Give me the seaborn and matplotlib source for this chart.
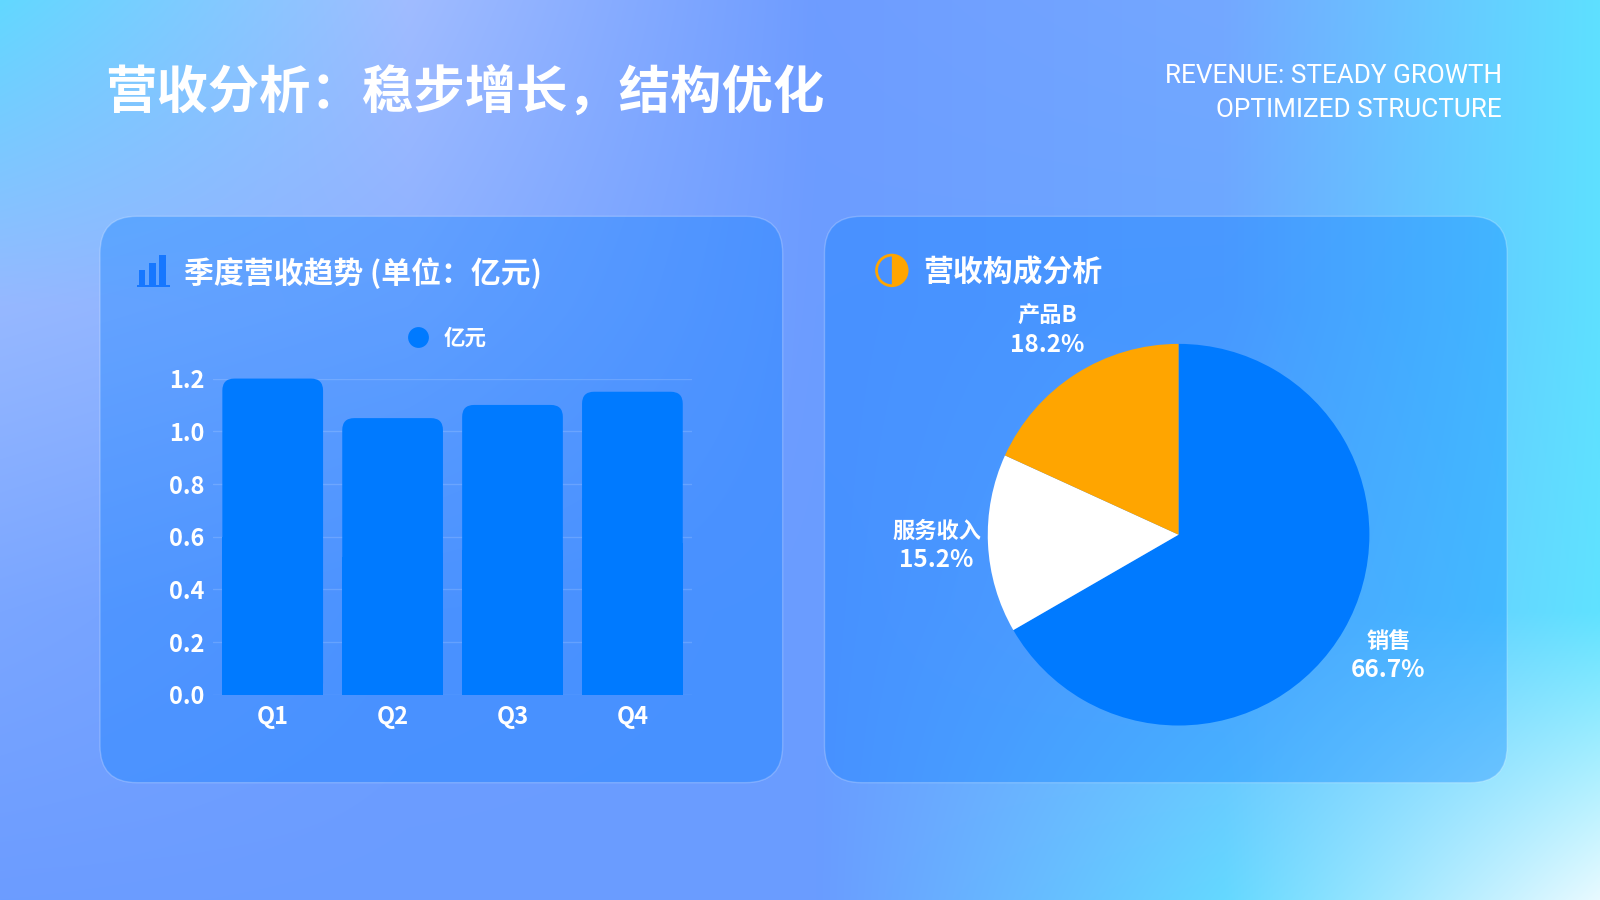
import numpy as np
import pandas as pd
import matplotlib
matplotlib.use("Agg")
import matplotlib.pyplot as plt
import seaborn as sns
from matplotlib.patches import FancyBboxPatch, Rectangle, Circle, Wedge
from matplotlib.lines import Line2D

# data
quarters = ["Q1", "Q2", "Q3", "Q4"]
revenue = [1.20, 1.05, 1.10, 1.15]
unit_label = "亿元"

mix_names = ["销售", "服务收入", "产品B"]
mix_values = [2.2, 0.5, 0.6]
mix_colors = ["#007AFF", "#FFFFFF", "#FFA500"]

title = "营收分析：稳步增长，结构优化"
subtitle = "REVENUE: STEADY GROWTH\nOPTIMIZED STRUCTURE"
bar_title = "季度营收趋势 (单位：亿元)"
pie_title = "营收构成分析"

sns.set_theme(style="white")
plt.rcParams["font.family"] = ["Noto Sans CJK SC", "DejaVu Sans"]

W, H = 1568, 882
S = 1600 / W


def P(x, y):
    # reference pixel -> inches
    return (x * S / 100, (H - y) * S / 100)


def L(v):
    return v * S / 100


def FF(x, y):
    # reference pixel -> figure fraction
    return x / W, 1 - y / H


def F(x0, y0, x1, y1):
    # reference pixel box -> figure fraction rect
    return [x0 / W, 1 - y1 / H, (x1 - x0) / W, (y1 - y0) / H]


fig = plt.figure(figsize=(16, 9), dpi=100)

# background gradient
xc = [0, 400, 800, 1200, 1568]
yc = [0, 300, 600, 882]
grid = [
    ["#62d8ff", "#a0bcff", "#6e9cff", "#74a8ff", "#5ee0ff"],
    ["#96b8ff", "#8cb0ff", "#6c9cff", "#6aa8ff", "#5ee0ff"],
    ["#7aa6ff", "#6e9eff", "#6a9cff", "#70b8ff", "#60e2ff"],
    ["#6c9cff", "#6a9cff", "#6a9cff", "#64d8ff", "#e8faff"],
]
g = np.array([[matplotlib.colors.to_rgb(c) for c in row] for row in grid])
xr = np.linspace(0, W, 1600)
yr = np.linspace(0, H, 900)
rows = np.stack([np.stack([np.interp(xr, xc, g[i, :, k]) for k in range(3)], -1)
                 for i in range(len(yc))])
img = np.stack([np.stack([np.interp(yr, yc, rows[:, j, k]) for j in range(1600)], 1)
                for k in range(3)], -1)
bg = fig.add_axes([0, 0, 1, 1], zorder=-10)
bg.imshow(img, aspect="auto", extent=[0, 1, 0, 1])
bg.axis("off")

# panels
for x0 in (98, 808):
    panel = FancyBboxPatch(P(x0, 767), L(669), L(555),
                           boxstyle=f"round,pad=0,rounding_size={L(36)}",
                           transform=fig.dpi_scale_trans,
                           fc=(0, 0.478, 1, 0.32), ec=(1, 1, 1, 0.22), lw=1, zorder=-5)
    fig.add_artist(panel)

# titles
fig.text(*FF(103, 90), title, fontsize=37, fontweight="bold", color="white",
         va="center", ha="left")
fig.text(*FF(1472, 91), subtitle, fontsize=18.8, fontweight="normal",
         family=["Roboto", "DejaVu Sans"], color="white", ha="right", va="center",
         multialignment="right", linespacing=1.55)

fig.text(*FF(180, 268), bar_title, fontsize=21.5, fontweight="bold", color="white", va="center")
fig.text(*FF(905, 267), pie_title, fontsize=21.5, fontweight="bold", color="white", va="center")

# bar icon
icon_blue = "#1677ff"
for bx, top in ((136, 265), (146, 258), (156, 250)):
    fig.add_artist(Rectangle(P(bx, 280), L(6.5), L(280 - top), transform=fig.dpi_scale_trans,
                             fc=icon_blue, ec="none"))
fig.add_artist(Rectangle(P(134, 281.5), L(33), L(2), transform=fig.dpi_scale_trans,
                         fc=icon_blue, ec="none"))

# half circle icon
c = P(874, 265)
fig.add_artist(Wedge(c, L(15), -90, 90, transform=fig.dpi_scale_trans, fc="#FFA500", ec="none"))
fig.add_artist(Circle(c, L(15), transform=fig.dpi_scale_trans, fc="none", ec="#FFA500", lw=2))

# bar chart
ax = fig.add_axes(F(208.5, 371, 678.5, 681))
df = pd.DataFrame({"quarter": quarters, "revenue": revenue})
sns.barplot(data=df, x="quarter", y="revenue", color="#007AFF", width=0.84,
            saturation=1, ax=ax, zorder=3)
ax.set_facecolor("none")
ax.set_ylim(0, 1.2)
ax.set_xlim(-0.5, 3.5)
ax.set_yticks([0, 0.2, 0.4, 0.6, 0.8, 1.0, 1.2])
ax.set_yticklabels([f"{v:.1f}" for v in ax.get_yticks()])
ax.grid(axis="y", color="white", alpha=0.15, lw=1)
ax.set_axisbelow(True)
for sp in ax.spines.values():
    sp.set_visible(False)
ax.set_xlabel("")
ax.set_ylabel("")
ax.tick_params(axis="both", length=0, colors="white", labelsize=17)
ax.tick_params(axis="y", pad=6)
ax.tick_params(axis="x", pad=7)
for t in ax.get_xticklabels() + ax.get_yticklabels():
    t.set_fontweight("bold")

rx = 0.10
ry = rx * (117.5 / 258.3)
for p in list(ax.patches):
    x, w, h = p.get_x(), p.get_width(), p.get_height()
    p.set_visible(False)
    ax.add_patch(FancyBboxPatch((x, 0), w, h, boxstyle=f"round,pad=0,rounding_size={rx}",
                                mutation_aspect=ry / rx, fc="#007AFF", ec="none",
                                zorder=3, clip_on=False))
    ax.add_patch(Rectangle((x, 0), w, h / 2, fc="#007AFF", ec="none", zorder=3))

handle = Line2D([], [], marker="o", ls="none", markersize=15,
                markerfacecolor="#007AFF", markeredgecolor="none")
ax.legend([handle], [unit_label], loc="center", bbox_to_anchor=(0.5 - 11 / 470, 1 + 40 / 310),
          frameon=False, handletextpad=0.2, labelcolor="white",
          prop={"weight": "bold", "size": 15.5})

# pie chart
pax = fig.add_axes(F(1155 - 187, 524 - 187, 1155 + 187, 524 + 187))
wedges, _ = pax.pie(mix_values, colors=mix_colors, startangle=90, counterclock=False,
                    wedgeprops={"linewidth": 0})
pax.set_xlim(-1, 1)
pax.set_ylim(-1, 1)
pax.set_aspect("equal")
pax.axis("off")
total = sum(mix_values)
for wdg, name, val in zip(wedges, mix_names, mix_values):
    ang = np.deg2rad((wdg.theta1 + wdg.theta2) / 2)
    pos = (1.27 * np.cos(ang), 1.27 * np.sin(ang))
    pax.annotate(name, pos, xytext=(0, 10.5), textcoords="offset points", ha="center",
                 va="center", color="white", fontsize=16, fontweight="bold",
                 annotation_clip=False)
    pax.annotate(f"{val / total * 100:.1f}%", pos, xytext=(0, -10), textcoords="offset points",
                 ha="center", va="center", color="white", fontsize=17.5, fontweight="bold",
                 annotation_clip=False)

fig.savefig("out.png", dpi=100)
